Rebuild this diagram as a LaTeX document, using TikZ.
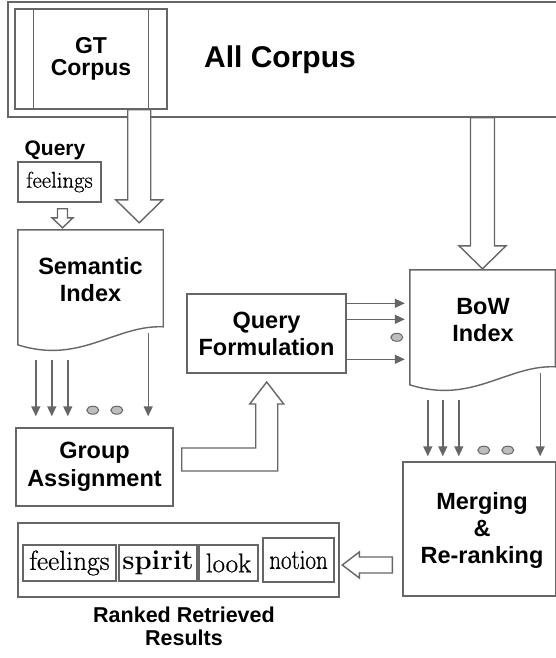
\documentclass[tikz,border=0pt]{standalone}
\usepackage{fontspec}
\newfontfamily\labelfont{Liberation Sans}
\newfontfamily\wordfont{Latin Modern Roman}[FakeBold=0.6]
\usetikzlibrary{arrows.meta,calc,shapes.geometric}

\definecolor{linegray}{HTML}{666666}
\definecolor{dotgray}{HTML}{BDBDBD}

\tikzset{
	line/.style={draw=linegray,line width=1.4pt},
	box/.style={line,inner sep=0pt,align=center,font=\labelfont\bfseries\fontsize{23.5}{27}\selectfont},
	docbox/.style={inner sep=0pt},
	lbl/.style={inner sep=0pt,align=center,font=\labelfont\bfseries\fontsize{23.5}{27}\selectfont},
	wordbox/.style={draw=linegray,line width=1.1pt,inner sep=0pt},
	flow/.style={line,-{Triangle[length=10pt,width=9pt]}},
	hollow/.style={line,fill=white,line join=miter},
	seqdot/.style={ellipse,draw=linegray,line width=1pt,fill=dotgray,minimum width=12pt,minimum height=8pt,inner sep=0pt}
}

% document outline round a docbox node
\newcommand\docshape[1]{%
	\draw[line] (#1.north west) -- (#1.north east) -- ($(#1.north east)+(0,97)$)
		.. controls ($(#1.north east)+(-48,95)$) and ($(#1.north west)+(62,135)$) .. ($(#1.north west)+(0,115)$) -- cycle;}

% hollow arrow pointing down: top, tip, shaft half width, head half width, head length
\newcommand\hollowdown[5]{%
	\draw[hollow] let \p1=(#1), \p2=(#2) in
		(\x1-#3pt,\y1) -- (\x1-#3pt,\y2+#5pt) -- (\x1-#4pt,\y2+#5pt) -- (\x1,\y2)
		-- (\x1+#4pt,\y2+#5pt) -- (\x1+#3pt,\y2+#5pt) -- (\x1+#3pt,\y1) -- cycle;}

\begin{document}
\begin{tikzpicture}[x=1pt,y=-1pt]
	\clip (0,0) rectangle (556,658);

	% corpus
	\node[box,minimum width=572,minimum height=115] (allcorp) at (294,59.5) {};
	\node[lbl,font=\labelfont\bfseries\fontsize{30}{34}\selectfont] (alltxt) at (280,60) {All Corpus};
	\node[box,fill=white,minimum width=152,minimum height=100,font=\labelfont\bfseries\fontsize{23}{22}\selectfont] (gt) at (91,59) {GT\\Corpus};
	\draw[line] ($(gt.north west)+(19,0)$) -- ($(gt.south west)+(19,0)$);
	\draw[line] ($(gt.north east)+(-19,0)$) -- ($(gt.south east)+(-19,0)$);

	% query
	\node[lbl,font=\labelfont\bfseries\fontsize{21}{24}\selectfont] (qlbl) at (55,150) {Query};
	\node[wordbox,line width=1.4pt,minimum width=83,minimum height=40,font=\wordfont\fontsize{22.8}{26}\selectfont] (qword) at (59.5,182) {feelings};

	% semantic side
	\node[docbox,minimum width=145,minimum height=115] (semidx) at (90.5,287.5) {};
	\docshape{semidx}
	\node[lbl] (semtxt) at (90.5,280) {Semantic\\Index};
	\node[box,minimum width=157,minimum height=78,font=\labelfont\bfseries\fontsize{23.5}{28}\selectfont] (group) at (94.5,467) {Group\\Assignment};

	% query formulation
	\node[box,minimum width=159,minimum height=79] (qf) at (266.5,333.5) {Query\\Formulation};

	% BoW side
	\node[docbox,minimum width=145,minimum height=114] (bow) at (482.5,327) {};
	\docshape{bow}
	\node[lbl] (bowtxt) at (483,320) {BoW\\Index};
	\node[box,minimum width=153,minimum height=134] (merge) at (479.5,529) {};
	\node[lbl] (mergetxt) at (482,530) {Merging\\\&\\Re-ranking};

	% ranked results
	\node[box,minimum width=321,minimum height=74] (results) at (178.5,560) {};
	\node[wordbox,minimum width=93,minimum height=36,font=\wordfont\fontsize{27.5}{30}\selectfont] (w1) at (69.5,563) {feelings};
	\node[wordbox,minimum width=78,minimum height=36,font=\bfseries\fontsize{27.5}{30}\selectfont] (w2) at (158,563) {spirit};
	\node[wordbox,minimum width=59,minimum height=36,font=\wordfont\fontsize{27}{30}\selectfont] (w3) at (228.5,563) {look};
	\node[wordbox,minimum width=71,minimum height=44,font=\wordfont\fontsize{28}{30}\selectfont] (w4) at (298.5,560) {\scalebox{0.82}[1]{notion}};
	\node[lbl,font=\labelfont\bfseries\fontsize{21.5}{23}\selectfont] (restxt) at (184,626) {Ranked Retrieved\\Results};

	% hollow arrows
	\coordinate (gtout) at ($(gt.south east)+(-28.5,0)$);
	\coordinate (semin) at ($(semidx.north east)+(-24.5,-7)$);
	\hollowdown{gtout}{semin}{11.5}{23.5}{23}
	\coordinate (corpout) at (bow.north |- allcorp.south);
	\coordinate (bowin) at ($(bow.north)+(0,-1)$);
	\hollowdown{corpout}{bowin}{12}{23.5}{23}
	\coordinate (qout) at ($(qword.south)+(3,6)$);
	\coordinate (qin) at ($(semidx.north west)+(44.5,-2)$);
	\hollowdown{qout}{qin}{5}{10.5}{10}
	\coordinate (gaout) at ($(group.east)+(8,-19)$);
	\draw[hollow] (gaout) -- ++(74,0) -- ++(0,-44) -- ++(-6,0) -- ++(17,-22) -- ++(17,22)
		-- ++(-6,0) -- ++(0,67) -- ++(-96,0) -- cycle;
	\coordinate (mgout) at ($(merge.west)+(-10,28)$);
	\draw[hollow] (mgout) -- ++(-33,0) -- ++(0,-5) -- ++(-17,13) -- ++(17,13) -- ++(0,-5)
		-- ++(33,0) -- cycle;

	% semantic index to groups
	\foreach \dx in {18,34,50}
		\draw[flow] ($(semidx.south west)+(\dx,15)$) -- ($(semidx.south west |- group.north)+(\dx,-11)$);
	\draw[flow] ($(semidx.south east)+(-15,-12)$) -- ($(semidx.south east |- group.north)+(-15,-11)$);
	\node[seqdot] (sd1) at ($(semidx.south west)+(75,65)$) {};
	\node[seqdot] (sd2) at ($(semidx.south west)+(99,65)$) {};

	% query formulation to BoW index
	\foreach \dy in {10,26,66}
		\draw[flow] ($(qf.north east)+(0,\dy)$) -- ($(qf.north east -| bow.west)+(-5,\dy)$);
	\node[seqdot] (qd) at ($(qf.north east -| bow.west)+(-13,44)$) {};

	% BoW index to merging
	\foreach \dx in {18,33,49}
		\draw[flow] ($(bow.south west)+(\dx,16)$) -- ($(bow.south west |- merge.north)+(\dx,-5)$);
	\draw[flow] ($(bow.south east)+(-15,-11)$) -- ($(bow.south east |- merge.north)+(-15,-5)$);
	\node[seqdot] (bd1) at ($(bow.south west)+(74,66)$) {};
	\node[seqdot] (bd2) at ($(bow.south west)+(98,66)$) {};
\end{tikzpicture}
\end{document}
